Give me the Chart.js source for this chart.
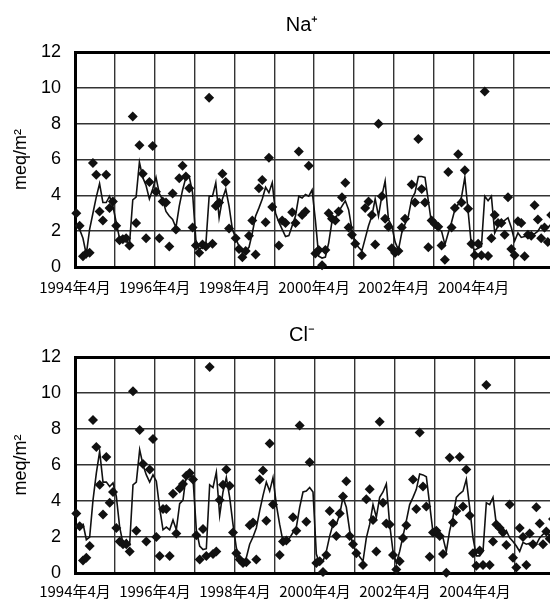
<!DOCTYPE html>
<html>
<head>
<meta charset="utf-8">
<script src="https://cdn.jsdelivr.net/npm/chart.js@4.4.0/dist/chart.umd.min.js"></script>
<style>
html, body { margin: 0; padding: 0; background: #fff; overflow: hidden; }
#wrap { position: relative; width: 550px; height: 601px; overflow: hidden; }
canvas { position: absolute; left: 0; }
#naChart { top: 0; }
#clChart { top: 300px; }
</style>
</head>
<body>
<div id="wrap">
<canvas id="naChart" width="604" height="300"></canvas>
<canvas id="clChart" width="604" height="301"></canvas>
</div>
<script>
// tick labels, one every two years (months counted from 1994年4月)
var yearLabels = ['1994年4月', '1996年4月', '1998年4月', '2000年4月', '2002年4月', '2004年4月'];

// Na+ monthly values (diamonds) and the line series
var naPoints = [
	3.0, 2.3, 0.6, 0.75, 0.8, 5.8, 5.15, 3.1, 2.6, 5.15,
	3.3, 3.65, 2.3, 1.5, 1.55, 1.6, 1.2, 8.4, 2.45, 6.8,
	5.2, 1.6, 4.75, 6.75, 4.2, 1.6, 3.65, 3.6, 1.15, 4.1,
	2.1, 4.95, 5.65, 5.05, 4.4, 2.2, 1.2, 0.8, 1.25, 1.15,
	9.45, 1.3, 3.4, 3.6, 5.2, 4.75, 2.15, null, 1.6, 1.0,
	0.55, 0.9, 1.75, 2.6, 0.7, 4.4, 4.85, 2.5, 6.1, 3.35,
	null, 1.2, 2.6, 2.45, null, 3.05, 2.45, 6.45, 2.9, 3.1,
	5.65, null, 0.75, 0.95, 0.1, 0.95, 3.0, 2.7, 2.6, 3.1,
	3.9, 4.7, 2.2, 1.8, 1.3, null, 0.65, 3.3, 3.65, 2.9,
	1.25, 8.0, 3.95, 2.7, 2.25, 1.05, 0.8, 0.9, 2.2, 2.7,
	null, 4.6, 3.6, 7.15, 4.35, 3.6, 1.1, 2.6, 2.4, 2.25,
	1.2, 0.4, 5.3, 2.2, 3.3, 6.3, 3.6, 5.4, 3.25, 1.3,
	0.65, 1.3, 0.65, 9.8, 0.62, 1.6, 2.9, 2.45, 2.45, 1.8,
	3.9, 1.0, 0.65, 2.55, 2.45, 0.6, 1.8, 1.75, 3.45, 2.65,
	1.6, 2.2, 1.4, 2.9
];
var naLine = [
	2.3, 2.1, 1.6, 0.7, 2.1, 3.0, 3.9, 4.65, 3.6, 3.6,
	3.95, 3.4, 2.5, 1.6, 1.75, 1.5, 1.25, 3.75, 3.9, 5.85,
	5.0, 4.55, 3.8, 4.35, 5.0, 4.1, 3.75, 3.1, 2.85, 2.65,
	2.2, 3.4, 4.3, 5.0, 5.05, 4.15, 1.5, 1.0, 1.1, 1.25,
	3.95, 3.95, 4.7, 2.75, 3.8, 4.35, 3.4, 2.1, 1.6, 1.15,
	0.8, 0.9, 1.1, 1.9, 2.85, 3.3, 3.8, 4.45, 4.15, 4.7,
	3.0, 2.5, 2.1, 1.7, 1.75, 2.3, 2.85, 3.95, 3.85, 4.05,
	3.95, 4.3, 2.6, 0.6, 0.5, 0.55, 1.35, 2.55, 2.65, 3.1,
	3.4, 3.7, 3.2, 2.1, 1.35, 1.1, 0.9, 1.6, 2.3, 2.85,
	3.8, 2.85, 3.95, 4.8, 2.65, 2.3, 1.4, 0.95, 1.9, 2.4,
	2.85, 3.8, 4.15, 5.05, 5.05, 5.0, 3.7, 2.4, 2.2, 2.1,
	2.0, 1.25, 1.9, 2.5, 3.2, 3.5, 3.9, 5.0, 3.1, 1.15,
	0.95, 1.05, 1.15, 3.95, 3.7, 3.95, 1.9, 2.3, 2.45, 2.6,
	2.75, 2.2, 1.45, 1.9, 1.65, 1.7, 1.75, 1.8, 1.85, 2.0,
	2.3, 2.0, 2.2, 2.4
];

// Cl- monthly values (diamonds) and the line series
var clPoints = [
	3.3, 2.6, 0.7, 0.85, 1.5, 8.5, 7.0, 4.9, 3.25, 6.45,
	3.9, 4.5, 2.5, 1.75, 1.6, 1.6, 1.2, 10.1, 2.35, 7.95,
	6.05, 1.75, 5.75, 7.45, 2.0, 0.95, 3.55, 3.55, 0.95, 4.4,
	2.2, 4.7, 4.95, 5.4, 5.55, 5.2, 2.1, 0.75, 2.45, 0.95,
	11.45, 1.05, 1.2, 4.05, 4.9, 5.75, 4.85, 2.25, 1.1, 0.75,
	0.55, 0.6, 2.65, 2.8, 0.75, 5.2, 5.7, 2.9, 7.2, 3.8,
	null, 1.0, 1.75, 1.8, null, 3.1, 2.35, 8.2, null, 2.85,
	6.15, null, 0.55, 0.65, 0.05, 1.0, 3.45, 2.75, 2.05, 3.3,
	4.25, 5.1, 2.05, 1.6, 1.1, null, 0.45, 4.1, 4.65, 2.95,
	1.2, 8.4, 3.9, 2.75, 2.7, 1.0, 0.2, 0.65, 1.95, 2.65,
	null, 5.2, 3.55, 7.8, 4.8, 3.7, 0.9, 2.25, 2.35, 2.05,
	1.05, 0.02, 6.4, 2.8, 3.45, 6.45, 3.7, 5.75, 3.2, 1.1,
	0.4, 1.25, 0.45, 10.45, 0.45, 1.75, 2.7, 2.5, 2.25, 1.55,
	3.8, 0.85, 0.3, 2.5, 2.0, 0.45, 2.2, 1.6, 3.65, 2.75,
	1.6, 2.3, 1.9, 3.0
];
var clLine = [
	null, null, 2.75, 1.85, 2.0, 4.05, 5.55, 6.75, 5.05, 5.05,
	4.8, 5.0, 4.25, 2.55, 1.65, 1.85, 1.6, 4.9, 5.05, 6.85,
	6.0, 5.45, 5.05, 5.45, 5.1, 3.6, 2.4, 2.55, 2.4, 2.95,
	2.4, 3.85, 4.05, 5.5, 5.45, 5.25, 2.4, 1.5, 1.3, 1.35,
	4.9, 4.75, 5.6, 3.2, 4.5, 5.3, 4.2, 2.7, 1.4, 0.75,
	0.65, 0.85, 1.6, 2.0, 2.5, 3.45, 4.3, 5.05, 4.55, 5.3,
	3.8, 2.7, 1.75, 1.7, 1.95, 2.25, 2.55, 3.65, 4.5, 4.55,
	4.75, 4.5, 1.05, 0.5, 0.65, 1.2, 2.05, 2.7, 2.7, 3.25,
	4.2, 3.65, 2.35, 1.5, 1.2, 0.9, 0.65, 1.95, 2.7, 3.8,
	3.1, 4.2, 4.5, 4.95, 2.7, 1.2, 0.55, 1.2, 2.05, 2.9,
	3.8, 4.2, 4.65, 5.5, 5.45, 5.35, 3.8, 2.25, 2.05, 2.0,
	1.95, 1.2, 2.35, 3.1, 4.2, 4.4, 4.55, 5.2, 3.65, 1.95,
	0.95, 0.95, 1.2, 3.9, 3.8, 4.2, 2.7, 2.35, 2.05, 2.35,
	1.95, 1.75, 1.5, 1.2, 1.7, 1.6, 1.65, 1.65, 1.6, 1.95,
	2.15, 2.3, 2.1, 2.4
];

var gridGray = '#333';

// month index -> point in the middle of the month
function toXY(arr) {
	return arr.map(function (v, i) {
		return { x: i + 0.4, y: v };
	});
}

function makeChart(id, titleText, points, line, titlePad, xHeight, xPad) {
	var ctx = document.getElementById(id).getContext('2d');
	return new Chart(ctx, {
		type: 'scatter',
		data: {
			datasets: [
				{
					type: 'line',
					data: toXY(line),
					borderColor: '#111',
					borderWidth: 1.6,
					pointRadius: 0,
					fill: false,
					tension: 0,
					spanGaps: true,
					order: 1
				},
				{
					data: toXY(points),
					pointStyle: 'rectRot',
					pointRadius: 5,
					backgroundColor: '#111',
					borderWidth: 0,
					clip: false,
					order: 0
				}
			]
		},
		options: {
			responsive: false,
			animation: false,
			devicePixelRatio: 1,
			layout: { padding: 0 },
			plugins: {
				legend: { display: false },
				tooltip: { enabled: false },
				title: {
					display: true,
					text: titleText,
					color: '#000',
					font: { family: '"Liberation Sans", Arial, sans-serif', size: 20, weight: 'normal' },
					padding: titlePad
				}
			},
			scales: {
				x: {
					type: 'linear',
					min: 0,
					max: 156,
					border: { color: '#000', width: 3 },
					grid: { color: gridGray, lineWidth: 1.4, drawTicks: false },
					ticks: {
						stepSize: 12,
						autoSkip: false,
						maxRotation: 0,
						padding: xPad,
						color: '#000',
						font: { family: '"Noto Sans CJK JP", sans-serif', size: 15 },
						callback: function (v) {
							if (v % 24 === 0) return yearLabels[v / 24] || '';
							return '';
						}
					},
					afterFit: function (s) { s.height = xHeight; }
				},
				y: {
					min: 0,
					max: 12,
					border: { color: '#000', width: 3 },
					grid: {
						color: function (c) { return c.tick.value === 12 ? '#000' : gridGray; },
						lineWidth: function (c) { return c.tick.value === 12 ? 3 : 1.4; },
						drawTicks: false
					},
					ticks: {
						stepSize: 2,
						padding: 14,
						color: '#000',
						font: { family: '"Liberation Sans", Arial, sans-serif', size: 18 }
					},
					title: {
						display: true,
						text: 'meq/m²',
						color: '#000',
						font: { family: '"Liberation Sans", Arial, sans-serif', size: 18 },
						padding: { top: 10, bottom: 0 }
					},
					afterFit: function (s) { s.width = 75; }
				}
			}
		}
	});
}

var naChart = makeChart('naChart', 'Na⁺', naPoints, naLine, { top: 13, bottom: 15 }, 33, 11);
var clChart = makeChart('clChart', 'Cl⁻', clPoints, clLine, { top: 23, bottom: 10 }, 28, 9);
</script>
</body>
</html>
